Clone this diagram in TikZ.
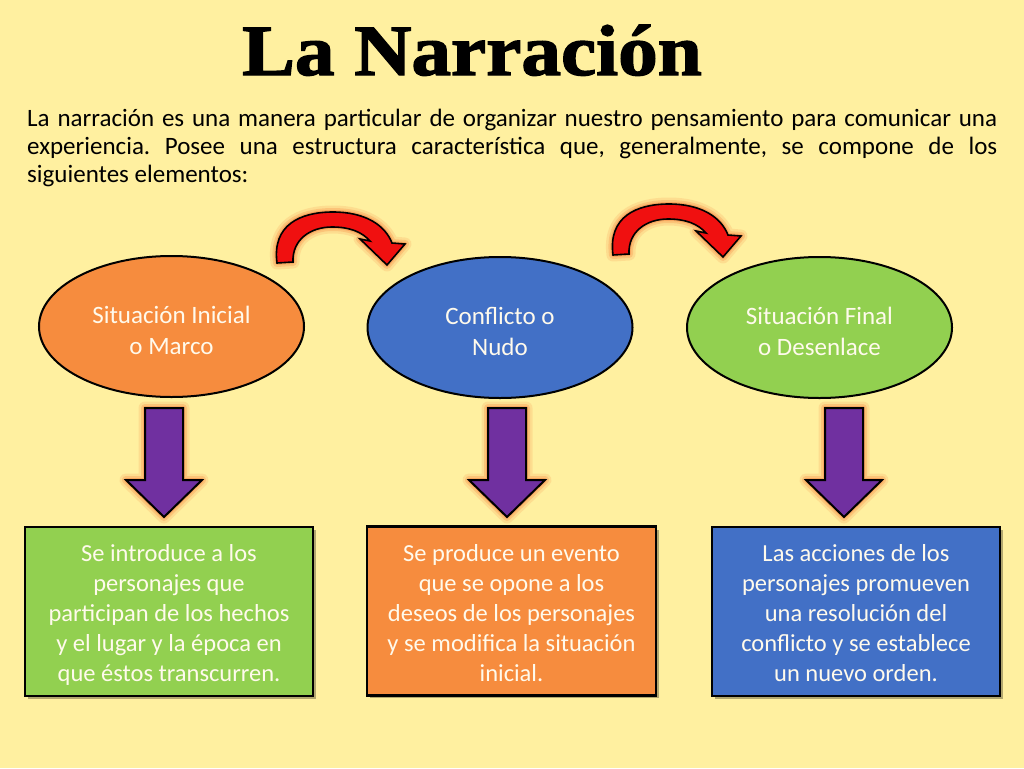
\documentclass[tikz,border=0pt]{standalone}
\usepackage{fontspec}
\setmainfont{Carlito}
\newfontfamily\titlefont{Liberation Serif}[FakeBold=2,FakeStretch=1.1]
\usetikzlibrary{shapes.geometric}
\definecolor{bgc}{RGB}{255,240,160}
\definecolor{orng}{RGB}{246,140,62}
\definecolor{bluec}{RGB}{66,112,198}
\definecolor{greenc}{RGB}{146,208,80}
\definecolor{purp}{RGB}{112,48,160}
\definecolor{redc}{RGB}{240,16,16}
\definecolor{glowc}{RGB}{248,140,70}
\definecolor{txtw}{RGB}{255,250,236}
\newcommand\lowtext[2]{\raisebox{-#1}[\height][\depth]{\begin{tabular}{@{}c@{}}#2\end{tabular}}}
\tikzset{
  glowA/.style={draw=glowc, line width=13pt, opacity=0.18, line join=round},
  glowB/.style={draw=glowc, line width=8pt, opacity=0.3, line join=round},
  glowC/.style={draw=glowc, line width=4pt, opacity=0.5, line join=round},
  ell/.style={ellipse, draw=black, line width=2pt, minimum width=265pt, minimum height=141pt,
    text=txtw, font=\fontsize{25}{31}\selectfont, inner sep=0pt},
  infobox/.style={rectangle, draw=black, line width=2.5pt, minimum width=288pt, minimum height=169pt,
    text=txtw, font=\fontsize{24.5}{30}\selectfont, inner sep=0pt},
  shadowbox/.style={fill=black, opacity=0.3},
  downarr/.pic={
    \path[glowA] (-19,408) -- (19,408) -- (19,480) -- (38,480) -- (0,517) -- (-38,480) -- (-19,480) -- cycle;
    \path[glowB] (-19,408) -- (19,408) -- (19,480) -- (38,480) -- (0,517) -- (-38,480) -- (-19,480) -- cycle;
    \path[glowC] (-19,408) -- (19,408) -- (19,480) -- (38,480) -- (0,517) -- (-38,480) -- (-19,480) -- cycle;
    \filldraw[fill=purp, draw=black, line width=2pt, line join=miter]
      (-19,408) -- (19,408) -- (19,480) -- (38,480) -- (0,517) -- (-38,480) -- (-19,480) -- cycle;
  },
  curvarr/.pic={
    \foreach \gs in {glowA,glowB,glowC}{
      \path[\gs] (277,263) .. controls (272,225) and (300,212) .. (333,212)
        .. controls (365,212) and (385,225) .. (392,243) -- (405,244) -- (387,265) -- (360,239) -- (370,241)
        .. controls (362,232) and (350,227) .. (332,227) .. controls (310,227) and (292,240) .. (293,262) -- cycle;
    }
    \filldraw[fill=redc, draw=black, line width=1.6pt, line join=miter]
      (277,263) .. controls (272,225) and (300,212) .. (333,212)
        .. controls (365,212) and (385,225) .. (392,243) -- (405,244) -- (387,265) -- (360,239) -- (370,241)
        .. controls (362,232) and (350,227) .. (332,227) .. controls (310,227) and (292,240) .. (293,262) -- cycle;
  }
}
\begin{document}
\begin{tikzpicture}[x=1pt,y=-1pt]
\useasboundingbox (0,0) rectangle (1024,768);
\fill[bgc] (0,0) rectangle (1024,768);

\node[anchor=base, inner sep=0pt, font=\titlefont\bfseries\fontsize{72}{72}\selectfont] (title) at (472,75) {La Narración};

\node[anchor=north west, text width=970pt, align=justify, inner sep=0pt, font=\fontsize{25}{28}\selectfont] (intro) at (27,109)
 {\frenchspacing La narración es una manera particular de organizar nuestro pensamiento para comunicar una\linebreak
  experiencia. Posee una estructura característica que, generalmente, se compone de los\linebreak
  siguientes elementos:};

% curved arrows
\pic at (0,0) {curvarr};
\pic at (336,-8) {curvarr};

% ellipses
\node[ell, fill=orng] (e1) at (171.5,326.5) {\lowtext{6pt}{Situación Inicial\\o Marco}};
\node[ell, fill=bluec] (e2) at (500,327.5) {\lowtext{6pt}{Conflicto o\\Nudo}};
\node[ell, fill=greenc] (e3) at (819.5,327.5) {\lowtext{6pt}{Situación Final\\o Desenlace}};

% down arrows
\pic at (164,0) {downarr};
\pic at (507,0) {downarr};
\pic at (844,0) {downarr};

% boxes
\fill[shadowbox] (28,530) rectangle (316,699);
\fill[shadowbox] (370,530) rectangle (659,698);
\fill[shadowbox] (715,530) rectangle (1003,699);
\node[infobox, fill=greenc] (b1) at (169,611.5) {\lowtext{4pt}{Se introduce a los\\personajes que\\participan de los hechos\\y el lugar y la época en\\que éstos transcurren.}};
\node[infobox, fill=orng, minimum width=289pt] (b2) at (511.5,611) {\lowtext{4pt}{Se produce un evento\\que se opone a los\\deseos de los personajes\\y se modifica la situación\\inicial.}};
\node[infobox, fill=bluec] (b3) at (856,611.5) {\lowtext{4pt}{Las acciones de los\\personajes promueven\\una resolución del\\conflicto y se establece\\un nuevo orden.}};
\end{tikzpicture}
\end{document}
